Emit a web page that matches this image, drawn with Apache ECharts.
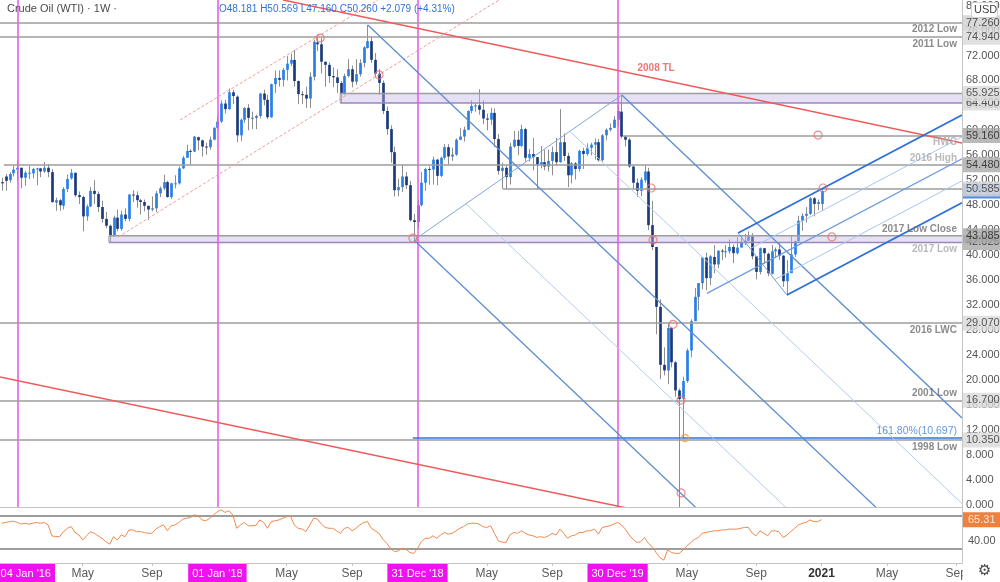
<!DOCTYPE html>
<html>
<head>
<meta charset="utf-8">
<script src="https://cdn.jsdelivr.net/npm/echarts@6/dist/echarts.min.js"></script>
<style>
html, body { margin: 0; padding: 0; background: #fff; }
#chart { width: 1000px; height: 582px; }
</style>
</head>
<body>
<div id="chart"></div>
<script>
// weekly candles from week of 05 Dec 2016 (index 0) to week of 04 Jan 2021 (index 213), [open, high, low, close]
const candles = [
  [51.7,52.4,50.3,51.5],[52.6,53.0,50.3,51.9],[52.0,53.3,51.6,53.0],[53.1,54.3,52.6,53.7],
  [53.7,55.2,51.9,54.0],[54.0,54.0,50.7,52.4],[52.4,53.5,51.1,53.2],[53.2,54.3,52.2,53.2],
  [53.1,54.0,52.3,53.8],[53.9,54.0,51.2,53.9],[53.9,54.0,52.5,53.4],[53.4,54.9,53.2,54.0],
  [54.0,54.6,52.5,53.3],[53.3,53.8,48.4,48.5],[48.4,49.2,47.1,48.8],[48.8,49.0,47.1,48.0],
  [47.9,50.9,47.3,50.6],[50.6,52.9,50.1,52.2],[52.3,53.8,52.1,53.2],[53.2,53.2,49.3,49.6],
  [49.6,50.2,48.2,49.3],[49.3,49.5,43.8,46.2],[46.2,48.1,45.5,47.8],[47.8,50.9,47.7,50.3],
  [50.3,52.0,48.2,49.8],[49.8,50.2,46.9,47.7],[47.7,48.7,45.2,45.8],[45.8,46.9,44.3,44.7],
  [44.7,44.9,42.1,43.0],[43.0,46.3,42.9,46.0],[46.0,47.3,43.8,44.2],[44.2,47.1,43.9,46.5],
  [46.5,47.5,45.4,45.8],[45.8,49.8,45.4,49.7],[49.7,50.4,48.5,49.6],[49.6,50.2,47.6,48.8],
  [48.8,49.0,46.5,48.5],[48.5,48.9,47.0,47.9],[47.9,47.9,45.6,47.3],[47.3,49.4,47.0,47.5],
  [47.5,50.3,46.9,49.9],[49.9,51.0,49.3,50.7],[50.7,52.9,50.4,51.7],[51.7,51.9,49.2,49.3],
  [49.3,51.6,49.0,51.5],[51.5,52.8,50.7,51.5],[51.5,54.2,51.3,53.9],[53.9,55.9,53.8,55.6],
  [55.6,57.7,55.6,56.7],[56.7,57.0,54.5,56.6],[56.6,59.1,56.5,59.0],[58.9,59.0,56.8,58.4],
  [58.4,58.5,55.8,57.4],[57.4,58.0,56.1,57.3],[57.3,59.0,56.9,58.5],[58.5,60.5,58.4,60.4],
  [60.4,62.2,60.1,61.4],[61.4,64.8,61.2,64.3],[64.3,64.9,62.7,63.4],[63.4,66.7,63.3,66.1],
  [66.1,66.5,64.2,65.5],[65.4,65.6,58.1,59.2],[59.2,61.9,58.3,61.7],[61.7,63.7,61.2,63.6],
  [63.6,64.2,60.0,62.0],[62.0,63.0,60.2,62.0],[62.0,62.5,60.2,62.3],[62.3,66.0,61.9,65.9],
  [65.9,66.5,64.0,64.9],[64.9,65.7,61.8,62.1],[62.1,67.5,62.0,67.4],[67.4,69.6,66.0,68.4],
  [68.4,69.6,67.0,68.1],[68.1,70.0,67.0,69.7],[69.7,71.9,68.0,70.7],[70.7,72.3,70.3,71.3],
  [71.3,72.9,67.0,67.9],[67.9,68.0,64.2,65.8],[65.8,66.3,64.2,65.7],[65.7,67.0,63.6,65.1],
  [65.1,69.3,63.6,68.6],[68.6,74.5,68.0,74.2],[74.1,75.3,72.7,73.8],[73.8,74.8,69.1,71.0],
  [71.0,71.0,67.0,70.5],[70.5,70.9,67.6,68.7],[68.7,70.1,66.9,68.5],[68.5,69.8,66.0,67.6],
  [67.6,67.9,64.4,65.9],[65.9,69.1,65.7,68.7],[68.7,71.4,68.5,69.8],[69.8,70.4,66.9,67.8],
  [67.8,71.4,67.3,69.0],[69.0,71.4,68.6,70.8],[70.8,73.5,70.1,73.3],[73.2,76.9,73.1,74.3],
  [74.3,75.0,70.8,71.3],[71.3,72.4,68.5,69.1],[69.1,69.8,65.7,67.6],[67.6,68.0,62.6,63.1],
  [63.1,63.8,59.3,60.2],[60.2,60.8,54.8,56.5],[56.5,57.4,49.4,50.4],[50.4,52.2,49.4,50.9],
  [50.9,54.5,50.1,52.6],[52.6,53.3,50.6,51.2],[51.2,51.9,45.4,45.6],[45.6,46.6,42.4,45.3],
  [45.3,48.8,44.4,48.0],[48.0,53.3,47.8,51.6],[51.6,54.0,50.3,53.8],[53.8,54.2,51.3,53.7],
  [53.7,55.8,51.3,55.3],[55.3,55.4,51.2,52.7],[52.7,55.8,52.5,55.6],[55.6,57.8,55.3,57.3],
  [57.3,57.8,54.5,55.8],[55.8,57.2,55.1,56.1],[56.1,58.7,55.9,58.5],[58.5,60.4,58.4,59.0],
  [59.0,60.6,58.2,60.1],[60.1,63.2,60.0,63.1],[63.1,64.8,62.7,63.9],[63.9,64.3,63.0,64.0],
  [64.0,66.6,62.5,63.3],[63.3,64.8,61.0,61.9],[61.9,62.7,60.0,61.7],[61.7,63.6,60.9,62.8],
  [62.8,63.5,57.3,58.6],[58.6,59.4,52.9,53.5],[53.5,54.8,50.6,54.0],[54.0,54.3,50.6,52.5],
  [52.5,58.0,51.3,57.4],[57.4,59.9,57.2,58.5],[58.5,59.9,56.0,57.5],[57.5,60.9,57.3,60.2],
  [60.2,60.4,55.0,55.6],[55.6,57.0,55.0,56.2],[56.2,58.8,53.6,55.7],[55.7,55.7,50.5,54.5],
  [54.5,57.5,53.9,54.9],[54.9,56.9,53.6,54.2],[54.2,56.9,53.4,55.1],[55.1,57.4,52.8,56.5],
  [56.5,58.8,54.4,54.9],[54.9,63.4,54.8,58.1],[58.1,59.5,55.1,55.9],[55.9,56.4,50.9,52.8],
  [52.8,54.9,51.5,54.7],[54.7,54.9,52.1,53.8],[53.8,56.9,53.4,56.7],[56.7,57.2,53.8,56.2],
  [56.2,57.9,55.9,57.2],[57.2,58.0,56.0,57.7],[57.7,58.7,55.3,58.1],[58.1,58.6,55.0,55.2],
  [55.2,59.4,55.0,59.2],[59.2,60.3,58.4,60.1],[60.1,61.1,59.8,60.4],[60.4,62.3,60.4,61.7],
  [61.7,64.1,60.6,63.1],[63.0,65.7,58.7,59.0],[59.0,59.1,57.4,58.5],[58.5,58.8,54.0,54.2],
  [54.2,54.3,50.6,51.6],[51.6,52.3,49.3,50.3],[50.3,52.5,49.4,52.1],[52.0,54.4,51.6,53.4],
  [53.4,54.0,44.0,44.8],[44.8,48.7,40.8,41.3],[41.3,41.3,27.3,31.7],[31.7,32.9,20.1,22.4],
  [22.4,25.2,20.7,21.5],[21.5,29.1,19.3,28.3],[28.3,28.4,22.0,22.8],[22.8,23.0,17.3,18.3],
  [18.3,18.6,-40.3,16.9],[17.0,20.5,10.5,19.8],[19.8,25.0,19.5,24.7],[24.7,29.7,23.6,29.4],
  [29.4,34.7,29.4,33.3],[33.3,35.5,31.1,35.5],[35.5,39.6,34.5,39.6],[39.6,40.4,34.4,36.3],
  [36.3,40.0,35.2,39.8],[39.7,41.6,37.1,38.5],[38.5,40.8,37.9,40.7],[40.7,41.0,39.2,40.6],
  [40.5,41.6,39.6,40.6],[40.6,42.5,40.2,41.3],[41.3,41.7,38.7,40.3],[40.3,42.9,40.1,41.2],
  [41.2,43.0,41.2,42.0],[42.0,43.4,41.6,42.3],[42.3,43.8,42.2,43.0],[43.0,43.5,39.3,39.8],
  [39.8,39.8,36.1,37.3],[37.3,41.2,36.9,41.1],[41.1,41.1,38.6,40.3],[40.2,40.4,36.6,37.1],
  [37.0,41.6,36.9,40.6],[40.6,41.2,39.5,40.9],[40.9,41.9,39.2,39.9],[39.9,40.0,34.9,35.8],
  [35.8,39.2,33.6,37.1],[37.1,43.1,37.1,40.1],[40.1,42.3,39.7,42.2],[42.2,46.3,42.2,45.5],
  [45.5,46.7,43.9,46.3],[46.3,47.7,45.2,46.6],[46.6,49.3,46.4,49.1],[49.1,49.3,46.2,48.2],
  [48.2,48.9,47.2,48.5],[48.181,50.569,47.16,50.26]
];

const rsi = [
  61,62,63,63.5,62,60,61,60,61,62,
  61,62,59,46,45,45,51,55,57,50,
  47,41,46,51,49,46,43,39,36,45,
  41,47,45,53,53,51,51,50,49,49,
  54,57,59,52,58,59,62,66,67,68,
  71,70,65,64,67,71,75,77,74,76,
  71,55,59,62,58,58,58.5,65,62,55,
  63,64,65,67,69,69.5,59,55,54,51,
  59,67,66,60,56,55,55,52,49,55,
  56,52,55,59,62,63,55,52,49,42,
  37,31,27,28,31,30,26,25,31,39,
  43,43,46,43,47,50,48,49,52,55,
  57,60,61,61,60,57,56,58,49,40,
  38.5,38,47,50,49,52,49,47,46,44,
  45,44,46,49,47,54,49,43,46,47,
  50,50,52,52,54,48,56,57,58,60,
  62,59,54,47,42,38,39,44,37,33,
  26,20,17,29,26,25,25,29,34,38,
  42,44,49,50,51,52,52,53,53,54,
  54,54,55,56,56,49,46,52,49,46,
  52,52,50.5,44,47,51,55,59,61,62,
  65,63,63,65.3
];
const rsiBands = [70, 30];

// time axis (week index)
const tickIdx  = [4, 21, 39, 56, 74, 91, 108, 126, 143, 160, 178, 196, 213, 230, 248];
const tickText = ["04 Jan '16", 'May', 'Sep', "01 Jan '18", 'May', 'Sep', "31 Dec '18", 'May', 'Sep', "30 Dec '19", 'May', 'Sep', '2021', 'May', 'Sep'];
const markedWeeks = [4, 56, 108, 160];

// horizontal levels: price and week index where the drawn line starts
const levels     = [77.26, 74.94, 59.16, 54.48, 50.585, 29.07, 16.7, 10.35];
const levelStart = [-0.5, -0.5, 161.4, 0.5, 130.2, -0.5, -0.5, -0.5];
const zones = [[87.9, 64.4, 65.925], [27.8, 42.025, 43.085]];
const fib = [106.8, 10.697];

const notes = [
  ['2012 Low', 77.26, 'below', 'dark'], ['2011 Low', 74.94, 'below', 'dark'],
  ['HWC', 59.16, 'below', 'light'], ['2016 High', 54.48, 'above', 'light'],
  ['2017 Low Close', 43.085, 'above', 'dark'], ['2017 Low', 42.025, 'below', 'light'],
  ['2016 LWC', 29.07, 'below', 'dark'], ['2001 Low', 16.7, 'above', 'dark'],
  ['161.80%(10.697)', 10.697, 'above', 'fib'], ['1998 Low', 10.35, 'below', 'dark']
];

// price scale flags: price, shade
const scaleFlags = [
  [77.26, 'mid'], [74.94, 'lite'], [64.4, 'lite'], [65.925, 'lite'], [59.16, 'dark'],
  [54.48, 'dark'], [50.26, 'blue'], [50.585, 'lite'], [42.025, 'dark'], [43.085, 'dark'],
  [29.07, 'lite'], [16.7, 'lite'], [10.35, 'lite']
];

// trendline anchors [week, price]
const tl2008    = [[73.05, 80.9], [249.5, 57.96]];
const tlLower   = [[-0.5, 20.44], [165, -0.9]];
const chanUpper = [[46.3, 61.67], [97.7, 80.9]];
const chanLower = [[30.2, 42.9], [129.2, 80.9]];
const forkA = [[95.1, 76.88], [107.1, 42.41], [161.1, 65.66]];
const forkB = [[183.2, 33.86], [191.3, 43.53], [204.0, 33.59]];

const touches = [[82.7, 74.8], [98.0, 68.9], [106.8, 42.7], [168.7, 50.75], [169.2, 42.4],
  [174.4, 28.9], [176.5, 16.75], [176.5, 1.85], [212.1, 59.24], [213.4, 50.75], [215.7, 42.9]];
const fibTouch = [177.5, 10.66];

const X_MIN = -0.5, X_MAX = 249.5;
const FONT = "'Liberation Sans', 'DejaVu Sans', Arial, sans-serif";

function ray(p, d) {
  const t = (X_MAX - p[0]) / d[0];
  return [p, [X_MAX, p[1] + d[1] * t]];
}
function lerp(a, b, t) { return [a[0] + (b[0] - a[0]) * t, a[1] + (b[1] - a[1]) * t]; }
function fork(pts) {
  const a = pts[0], b = pts[1], c = pts[2];
  const m = lerp(b, c, 0.5);
  const d = [m[0] - a[0], m[1] - a[1]];
  return {
    median: ray(a, d), t1: ray(b, d), t2: ray(c, d), base: [b, c],
    q1: ray(lerp(b, c, 0.25), d), q3: ray(lerp(b, c, 0.75), d)
  };
}

const segs = [];
function seg(coords, color, width, type) {
  segs.push({ coords: coords, lineStyle: { color: color, width: width, type: type || 'solid', opacity: 1 } });
}

// magenta date markers
markedWeeks.forEach(function (w) { seg([[w, 80.9], [w, -0.4]], '#ea55ea', 1.5); });
// levels
levels.forEach(function (p, i) { seg([[levelStart[i], p], [X_MAX, p]], '#9c9c9c', 1.5); });
seg([[fib[0], fib[1]], [X_MAX, fib[1]]], '#2f74e0', 1.5);
// red lines
seg(tl2008, '#ef5a5a', 1.5);
seg(tlLower, '#ef5a5a', 1.5);
seg(chanUpper, '#f39a9a', 1, [3, 2]);
seg(chanLower, '#f39a9a', 1, [3, 2]);
// pitchfork A
const fa = fork(forkA);
seg(fa.median, '#5b8fcf', 1.3); seg(fa.t1, '#5b8fcf', 1.3); seg(fa.t2, '#5b8fcf', 1.3);
seg(fa.base, '#7fa7d9', 1); seg(fa.q1, '#b3cbeb', 1); seg(fa.q3, '#b3cbeb', 1);
// pitchfork B
const fb = fork(forkB);
seg(fb.t1, '#2e6fd8', 1.8); seg(fb.t2, '#2e6fd8', 1.8); seg(fb.median, '#6d9be0', 1.2);
seg(fb.base, '#6d9be0', 1); seg(fb.q1, '#a9c5ef', 1); seg(fb.q3, '#a9c5ef', 1);

// RSI guide lines
const rsiSegs = rsiBands.map(function (v) {
  return { coords: [[X_MIN, v], [X_MAX, v]], lineStyle: { color: '#7d7d7d', width: 1.5, opacity: 1 } };
});

const UP = '#2a7ee8', DOWN = '#1b3a7c';

function renderCandle(params, api) {
  const i = api.value(0), o = api.value(1), h = api.value(2), l = api.value(3), c = api.value(4);
  const hi = api.coord([i, h]), lo = api.coord([i, l]);
  const po = api.coord([i, o]), pc = api.coord([i, c]);
  const w = Math.max(2, api.size([1, 0])[0] * 0.7);
  const x = Math.round(hi[0]) + 0.5;
  const top = Math.min(po[1], pc[1]);
  const hgt = Math.max(1, Math.abs(po[1] - pc[1]));
  return {
    type: 'group',
    children: [
      { type: 'line', shape: { x1: x, y1: hi[1], x2: x, y2: lo[1] }, style: { stroke: '#8d8d8d', lineWidth: 1 } },
      { type: 'rect', shape: { x: x - w / 2, y: top, width: w, height: hgt }, style: { fill: c >= o ? UP : DOWN } }
    ]
  };
}

function renderZone(params, api) {
  const p1 = api.coord([api.value(0), api.value(3)]);
  const p2 = api.coord([api.value(1), api.value(2)]);
  return {
    type: 'group',
    children: [
      { type: 'rect', shape: { x: p1[0], y: p1[1], width: p2[0] - p1[0], height: p2[1] - p1[1] },
        style: { fill: 'rgba(196,182,232,0.42)' } },
      { type: 'line', shape: { x1: p1[0], y1: p1[1], x2: p2[0], y2: p1[1] }, style: { stroke: '#9d9d9d', lineWidth: 1.5 } },
      { type: 'line', shape: { x1: p1[0], y1: p2[1], x2: p2[0], y2: p2[1] }, style: { stroke: '#9a86c0', lineWidth: 1.5 } },
      { type: 'line', shape: { x1: p1[0], y1: p1[1], x2: p1[0], y2: p2[1] }, style: { stroke: '#9d9d9d', lineWidth: 1 } }
    ]
  };
}

const noteColor = { dark: '#6e6e6e', light: '#a8a8a8', fib: '#3d7bd9' };
const flagStyle = {
  mid:  { backgroundColor: '#cfcfcf', color: '#2a2a2a' },
  lite: { backgroundColor: '#dadada', color: '#333' },
  dark: { backgroundColor: '#a9a9a9', color: '#1e1e1e' },
  blue: { backgroundColor: '#2e6fd8', color: '#fff' }
};

const yTicks = [];
for (let v = 0; v <= 80; v += 4) yTicks.push(v);

const labelPos = tickIdx.slice();
labelPos[0] = 6.2; // first flag sits against the left edge

function xLabel(value) {
  let j = -1;
  for (let k = 0; k < labelPos.length; k++) if (Math.abs(labelPos[k] - value) < 0.01) j = k;
  if (j < 0) return '';
  const t = tickText[j];
  if (markedWeeks.indexOf(tickIdx[j]) >= 0) return '{mark|' + t + '}';
  if (t === '2021') return '{bold|' + t + '}';
  return '{norm|' + t + '}';
}

const chart = echarts.init(document.getElementById('chart'));

chart.setOption({
  animation: false,
  backgroundColor: '#ffffff',
  textStyle: { fontFamily: FONT },
  grid: [
    { left: 0, right: 38, top: 0, height: 507, outerBoundsMode: 'none', containLabel: false },
    { left: 0, right: 38, top: 507, height: 56, outerBoundsMode: 'none', containLabel: false }
  ],
  xAxis: [
    { type: 'value', gridIndex: 0, min: X_MIN, max: X_MAX,
      axisLine: { show: true, onZero: false, lineStyle: { color: '#c4c4c4', width: 1 } },
      axisTick: { show: false }, axisLabel: { show: false }, splitLine: { show: false } },
    { type: 'value', gridIndex: 1, min: X_MIN, max: X_MAX,
      axisLine: { show: true, onZero: false, lineStyle: { color: '#c4c4c4', width: 1 } },
      axisTick: { show: true, customValues: tickIdx, length: 3, lineStyle: { color: '#c4c4c4' } },
      splitLine: { show: false },
      axisLabel: {
        customValues: labelPos, formatter: xLabel, margin: 1, hideOverlap: false,
        rich: {
          mark: { backgroundColor: '#f010f0', color: '#ffffff', fontSize: 11, padding: [4, 4, 3, 4], fontFamily: FONT },
          bold: { color: '#333', fontWeight: 'bold', fontSize: 12, padding: [4, 0, 3, 0], fontFamily: FONT },
          norm: { color: '#5a5a5a', fontSize: 12, padding: [4, 0, 3, 0], fontFamily: FONT }
        }
      } }
  ],
  yAxis: [
    { type: 'value', gridIndex: 0, position: 'right', min: -0.4, max: 80.9,
      axisLine: { show: true, onZero: false, lineStyle: { color: '#c4c4c4' } },
      axisTick: { show: false }, splitLine: { show: false },
      axisLabel: { customValues: yTicks, formatter: function (v) { return v.toFixed(3); },
        color: '#555', fontSize: 11, margin: 4 } },
    { type: 'value', gridIndex: 1, position: 'right', min: 13.5, max: 80.45,
      axisLine: { show: true, onZero: false, lineStyle: { color: '#c4c4c4' } },
      axisTick: { show: false }, splitLine: { show: false },
      axisLabel: { customValues: [40], formatter: function (v) { return v.toFixed(2); },
        color: '#555', fontSize: 11, margin: 6 } }
  ],
  series: [
    { type: 'custom', name: 'candles', xAxisIndex: 0, yAxisIndex: 0, clip: true, z: 2,
      renderItem: renderCandle, encode: { x: 0, y: [1, 2, 3, 4] },
      data: candles.map(function (c, i) { return [i, c[0], c[1], c[2], c[3]]; }) },
    { type: 'custom', name: 'zones', xAxisIndex: 0, yAxisIndex: 0, clip: true, z: 3,
      renderItem: renderZone, encode: { x: [0, 1], y: [2, 3] },
      data: zones.map(function (z) { return [z[0], X_MAX, z[1], z[2]]; }) },
    { type: 'lines', name: 'drawings', coordinateSystem: 'cartesian2d', xAxisIndex: 0, yAxisIndex: 0,
      clip: true, z: 4, silent: true, data: segs },
    { type: 'scatter', name: 'touches', xAxisIndex: 0, yAxisIndex: 0, z: 5, silent: true,
      symbol: 'circle', symbolSize: 8,
      itemStyle: { color: 'rgba(255,255,255,0)', borderColor: '#ee6b6b', borderWidth: 1.2 },
      data: touches },
    { type: 'scatter', name: 'fibTouch', xAxisIndex: 0, yAxisIndex: 0, z: 5, silent: true,
      symbol: 'circle', symbolSize: 7,
      itemStyle: { color: 'rgba(255,255,255,0)', borderColor: '#f0a030', borderWidth: 1.5 },
      data: [fibTouch] },
    { type: 'scatter', name: 'notes', xAxisIndex: 0, yAxisIndex: 0, z: 6, silent: true,
      symbolSize: 0,
      data: notes.map(function (n) {
        return { value: [248.2, n[1]],
          label: { show: true, formatter: n[0], position: 'left', distance: 0,
            offset: [0, n[2] === 'above' ? -7 : 7],
            color: noteColor[n[3]], fontSize: n[3] === 'fib' ? 10.5 : 10,
            fontWeight: n[3] === 'fib' ? 'normal' : 'bold', fontFamily: FONT } };
      }).concat([{ value: [170.0, 70.0],
        label: { show: true, formatter: '2008 TL', position: 'inside', color: '#ee5050',
          fontSize: 10, fontWeight: 'bold', fontFamily: FONT } }]) },
    { type: 'scatter', name: 'flags', xAxisIndex: 0, yAxisIndex: 0, z: 10, silent: true,
      symbolSize: 0, clip: false,
      data: scaleFlags.map(function (f) {
        const s = flagStyle[f[1]];
        return { value: [X_MAX, f[0]],
          label: { show: true, position: 'right', distance: 1, formatter: f[0].toFixed(3),
            backgroundColor: s.backgroundColor, color: s.color, fontSize: 11,
            padding: [2, 6, 2, 3], lineHeight: 11, fontFamily: FONT } };
      }) },
    { type: 'lines', name: 'rsiGuides', coordinateSystem: 'cartesian2d', xAxisIndex: 1, yAxisIndex: 1,
      z: 2, silent: true, data: rsiSegs },
    { type: 'line', name: 'RSI', xAxisIndex: 1, yAxisIndex: 1, z: 3, symbol: 'none',
      lineStyle: { color: '#ef8a4c', width: 1 },
      data: rsi.map(function (v, i) { return [i, v]; }) },
    { type: 'scatter', name: 'rsiFlag', xAxisIndex: 1, yAxisIndex: 1, z: 10, silent: true,
      symbolSize: 0, clip: false,
      data: [{ value: [X_MAX, rsi[rsi.length - 1]],
        label: { show: true, position: 'right', distance: 1, formatter: '65.31',
          backgroundColor: '#e8620c', color: '#fff', fontSize: 11,
          padding: [2, 8, 2, 5], lineHeight: 11, fontFamily: FONT } }] }
  ],
  graphic: [
    { type: 'text', left: 7, top: 3, z: 20,
      style: { text: 'Crude Oil (WTI) · 1W ·', fill: '#4a4a4a', font: '11px ' + FONT } },
    { type: 'text', left: 219, top: 4, z: 20,
      style: { text: 'O48.181 H50.569 L47.160 C50.260 +2.079 (+4.31%)', fill: '#2f73d9', font: '10px ' + FONT } },
    { type: 'rect', left: 971, top: 2, z: 20,
      shape: { width: 26, height: 15, r: 2 }, style: { fill: '#fff', stroke: '#cfcfcf', lineWidth: 1 } },
    { type: 'text', left: 974, top: 4, z: 21,
      style: { text: 'USD', fill: '#444', font: '11px ' + FONT } },
    { type: 'rect', left: 963, top: 564, z: 20,
      shape: { width: 37, height: 18 }, style: { fill: '#fff' } },
    { type: 'text', left: 978, top: 564, z: 21,
      style: { text: '⚙', fill: '#444', font: '15px DejaVu Sans' } }
  ]
});
</script>
</body>
</html>
